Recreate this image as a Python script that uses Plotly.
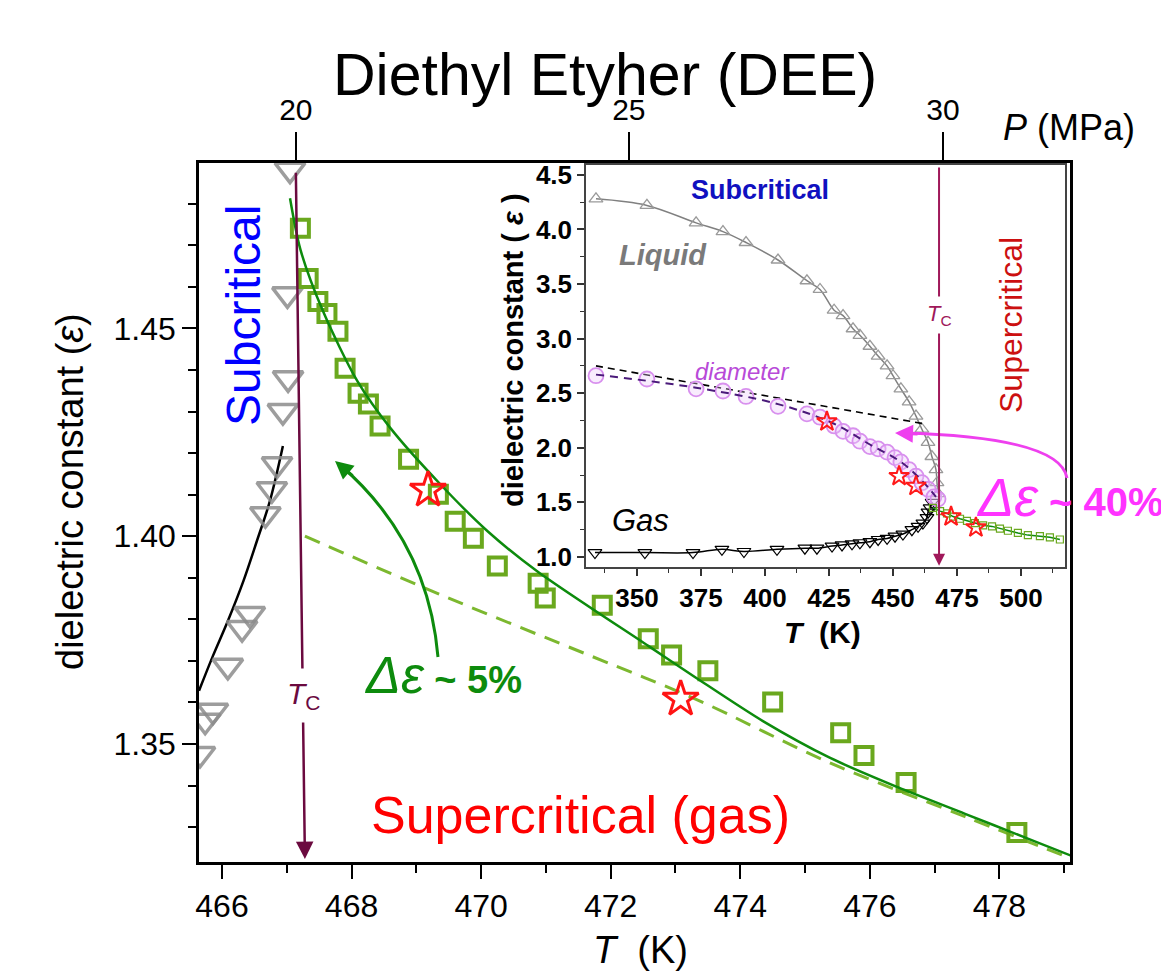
import plotly.graph_objects as go

# ---------------- main panel data (T in K, dielectric constant) ----------------
T_GRAY = [467.05, 467.01, 467.02, 466.94, 466.85, 466.77, 466.67, 466.43, 466.31, 466.09, 465.86, 465.74, 465.66]
E_GRAY = [1.4882, 1.4582, 1.4380, 1.4301, 1.4173, 1.4113, 1.4053, 1.3813, 1.3779, 1.3688, 1.3580, 1.3556, 1.3476]

T_GASFIT = [465.645, 465.86, 466.09, 466.33, 466.54, 466.74, 466.94]
E_GASFIT = [1.3628, 1.3712, 1.3796, 1.3892, 1.3989, 1.4085, 1.4217]

T_SQ = [467.21, 467.33, 467.48, 467.62, 467.79, 467.90, 468.10, 468.26, 468.44, 468.88, 469.34, 469.60,
        469.88, 470.25, 470.88, 470.99, 471.87, 472.58, 472.94, 473.50, 474.50, 475.55, 475.91, 476.56, 478.27]
E_SQ = [1.4741, 1.4620, 1.4565, 1.4536, 1.4493, 1.4404, 1.4344, 1.4318, 1.4265, 1.4185, 1.4101, 1.4036,
        1.3995, 1.3928, 1.3887, 1.3851, 1.3834, 1.3753, 1.3714, 1.3676, 1.3601, 1.3527, 1.3472, 1.3407, 1.3287]

T_STAR = [469.18, 473.08]
E_STAR = [1.4111, 1.3608]

T_FIT = [467.05, 467.21, 467.56, 468.09, 468.60, 469.37, 470.10, 470.87, 472.58, 473.31, 474.35,
         475.38, 476.43, 477.47, 478.41, 479.11]
E_FIT = [1.4813, 1.4690, 1.4541, 1.4373, 1.4260, 1.4125, 1.4012, 1.3915, 1.3736, 1.3660, 1.3555,
         1.3467, 1.3396, 1.3332, 1.3274, 1.3231]

T_DASH = [467.28, 469.50, 471.69, 473.31, 475.38, 477.47, 479.11]
E_DASH = [1.4000, 1.3851, 1.3712, 1.3608, 1.3455, 1.3325, 1.3224]

# top pressure axis: tick positions (on the T scale) and labels
P_TICK_T = [467.14, 472.28, 477.13]
P_TICK_TEXT = ["20", "25", "30"]

# critical temperature markers
TC_MAIN_TOP = (467.14, 1.4878)
TC_MAIN_BOT = (467.28, 1.3223)
TC_INSET = 468.0

# ---------------- inset data ----------------
T_LIQ = [334.0, 353.9, 373.1, 383.6, 392.6, 405.1, 416.4, 421.5, 427.0, 430.5, 434.4, 437.1, 441.0,
         444.2, 447.7, 450.0, 453.1, 456.3, 459.0, 461.3, 463.7, 465.2, 466.8, 467.2, 467.6]
E_LIQ = [4.28, 4.22, 4.06, 3.98, 3.88, 3.72, 3.53, 3.45, 3.26, 3.21, 3.09, 3.03, 2.93,
         2.84, 2.75, 2.66, 2.54, 2.42, 2.29, 2.17, 2.05, 1.92, 1.80, 1.68, 1.58]

T_GAS = [333.6, 353.1, 371.9, 383.2, 391.8, 404.7, 415.6, 420.3, 426.2, 430.1, 434.0, 437.1, 441.0,
         444.2, 447.7, 450.8, 453.9, 457.4, 459.8, 461.7, 463.3, 463.7, 464.5, 465.3]
E_GAS = [1.04, 1.04, 1.04, 1.07, 1.05, 1.07, 1.08, 1.08, 1.10, 1.11, 1.12, 1.13, 1.14,
         1.16, 1.17, 1.19, 1.21, 1.25, 1.28, 1.31, 1.36, 1.41, 1.45, 1.50]

T_DIA = [334.0, 353.9, 373.1, 383.6, 392.6, 405.1, 416.4, 421.5, 427.0, 430.5, 434.4, 437.1, 441.0,
         444.2, 447.7, 450.8, 453.1, 456.3, 459.0, 461.3, 463.7, 466.0, 467.6]
E_DIA = [2.66, 2.63, 2.54, 2.52, 2.47, 2.38, 2.31, 2.28, 2.20, 2.15, 2.11, 2.06, 2.01,
         1.99, 1.96, 1.91, 1.87, 1.80, 1.74, 1.68, 1.62, 1.55, 1.53]

T_PDASH = [334.0, 373.1, 405.1, 427.0, 441.0, 453.1, 461.3, 466.8]
E_PDASH = [2.67, 2.55, 2.40, 2.22, 2.03, 1.87, 1.70, 1.55]

T_BDASH = [334.0, 462.1]
E_BDASH = [2.75, 2.22]

T_SC = [465.6, 468.4, 471.1, 473.5, 476.2, 478.9, 482.0, 485.2, 488.7, 491.8, 494.9, 498.8, 502.7, 507.4, 511.3, 515.2]
E_SC = [1.45, 1.42, 1.40, 1.37, 1.35, 1.33, 1.31, 1.29, 1.28, 1.26, 1.24, 1.22, 1.20, 1.19, 1.18, 1.16]

T_ISTAR = [424.2, 452.4, 459.0, 472.7, 482.4]
E_ISTAR = [2.24, 1.74, 1.65, 1.37, 1.27]

# ---------------- layout geometry (screen pixels) ----------------
PAGE_OFF = 8                      # default body margin of the html page
FW, FH = 1169 - PAGE_OFF, 971 - PAGE_OFF
L, R, TOP, BOT = 199, 1070, 163, 862
W, H = R - L, BOT - TOP


def fx(px):
    return (px - L) / W


def fy(py):
    return (BOT - py) / H


FONT = "Liberation Sans, Arial, Helvetica, sans-serif"
GREEN_SQ = "#6aa81e"
GREEN_FIT = "#0d8b0d"
GREEN_DASH = "#7cb82f"


def ann(text, x, y, **kw):
    d = dict(text=text, x=x, y=y, xref="paper", yref="paper", showarrow=False,
             xanchor="center", yanchor="middle")
    d.update(kw)
    return d


fig = go.Figure()

# ---- main panel traces ----
fig.add_trace(go.Scatter(x=T_GASFIT, y=E_GASFIT, mode="lines", line=dict(color="black", width=2.5, shape="spline"),
                         xaxis="x", yaxis="y"))
fig.add_trace(go.Scatter(x=T_GRAY, y=E_GRAY, mode="markers",
                         marker=dict(symbol="triangle-down-open", size=26, color="rgba(140,140,140,0.85)",
                                     line=dict(width=3.5, color="rgba(140,140,140,0.85)")),
                         xaxis="x", yaxis="y"))
fig.add_trace(go.Scatter(x=T_DASH, y=E_DASH, mode="lines",
                         line=dict(color=GREEN_DASH, width=3, dash="16px,10px", shape="spline"),
                         xaxis="x", yaxis="y"))
fig.add_trace(go.Scatter(x=T_SQ, y=E_SQ, mode="markers",
                         marker=dict(symbol="square-open", size=17, color=GREEN_SQ, line=dict(width=4, color=GREEN_SQ)),
                         xaxis="x", yaxis="y"))
fig.add_trace(go.Scatter(x=T_FIT, y=E_FIT, mode="lines",
                         line=dict(color=GREEN_FIT, width=2.5, shape="spline", smoothing=0.8),
                         xaxis="x", yaxis="y"))
fig.add_trace(go.Scatter(x=T_STAR, y=E_STAR, mode="markers",
                         marker=dict(symbol="star-open", size=27, color="#ff1414", line=dict(width=3, color="#ff1414")),
                         xaxis="x", yaxis="y"))
# dummy trace for top pressure axis
fig.add_trace(go.Scatter(x=P_TICK_T, y=[None] * len(P_TICK_T), mode="markers", xaxis="x2", yaxis="y",
                         hoverinfo="skip"))

# ---- inset traces ----
fig.add_trace(go.Scatter(x=T_LIQ, y=E_LIQ, mode="lines+markers", line=dict(color="#808080", width=1.5, shape="spline"),
                         marker=dict(symbol="triangle-up-open", size=12, color="#9a9a9a", line=dict(width=1.3)),
                         xaxis="x3", yaxis="y3"))
fig.add_trace(go.Scatter(x=T_GAS, y=E_GAS, mode="lines+markers", line=dict(color="black", width=1.5, shape="spline"),
                         marker=dict(symbol="triangle-down-open", size=12, color="black", line=dict(width=1.2)),
                         xaxis="x3", yaxis="y3"))
fig.add_trace(go.Scatter(x=T_BDASH, y=E_BDASH, mode="lines", line=dict(color="black", width=1.6, dash="7px,5px"),
                         xaxis="x3", yaxis="y3"))
fig.add_trace(go.Scatter(x=T_DIA, y=E_DIA, mode="markers",
                         marker=dict(symbol="circle", size=15, color="rgba(235,200,248,0.35)",
                                     line=dict(width=1.8, color="#d890ee")),
                         xaxis="x3", yaxis="y3"))
fig.add_trace(go.Scatter(x=T_PDASH, y=E_PDASH, mode="lines", line=dict(color="#4a1a7a", width=2, dash="8px,6px", shape="spline"),
                         xaxis="x3", yaxis="y3"))
fig.add_trace(go.Scatter(x=T_SC, y=E_SC, mode="lines+markers", line=dict(color=GREEN_FIT, width=1.5),
                         marker=dict(symbol="square-open", size=7, color=GREEN_SQ, line=dict(width=1.2)),
                         xaxis="x3", yaxis="y3"))
fig.add_trace(go.Scatter(x=T_ISTAR, y=E_ISTAR, mode="markers",
                         marker=dict(symbol="star-open", size=15, color="#ff1a1a", line=dict(width=2)),
                         xaxis="x3", yaxis="y3"))

# ---- shapes: curved arrows ----
shapes = [
    dict(type="path", xref="paper", yref="paper",
         path=f"M {fx(438)},{fy(657)} Q {fx(428)},{fy(540)} {fx(339)},{fy(464)}",
         line=dict(color=GREEN_FIT, width=3)),
    dict(type="path", xref="paper", yref="paper",
         path=f"M {fx(1067)},{fy(478)} Q {fx(1060)},{fy(437)} {fx(902)},{fy(433)}",
         line=dict(color="#ee40ee", width=3)),
]

annotations = [
    # titles
    ann("Diethyl Etyher (DEE)", fx(605), fy(75), font=dict(size=59, color="black")),
    ann("<i>P</i> (MPa)", fx(1069), fy(127), font=dict(size=36, color="black")),
    ann("dielectric constant (<i>ε</i>)", fx(70), fy(492), textangle=-90, font=dict(size=38, color="black")),
    ann("<i>T</i>  (K)", fx(640), fy(950), font=dict(size=38, color="black")),
    # main panel labels
    ann("Subcritical", fx(243), fy(316), textangle=-90, font=dict(size=48, color="#0000ff")),
    ann("Supercritical (gas)", fx(580), fy(815), font=dict(size=52, color="#ff0000")),
    ann("<i><span style='font-size:52px'>Δε</span></i><b> ~ 5%</b>", fx(443), fy(675),
        font=dict(size=38, color=GREEN_FIT)),
    # main Tc arrow + label
    dict(text="", x=TC_MAIN_BOT[0], y=TC_MAIN_BOT[1], ax=TC_MAIN_TOP[0], ay=TC_MAIN_TOP[1],
         xref="x", yref="y", axref="x", ayref="y", showarrow=True, arrowhead=2, arrowsize=1.4,
         arrowwidth=2.5, arrowcolor="#6b0a3f"),
    dict(text="<i>T</i><sub>C</sub>", x=467.27, y=1.3616, xref="x", yref="y", showarrow=False,
         xanchor="center", yanchor="middle",
         bgcolor="white", borderpad=8, font=dict(size=30, color="#6b0a3f")),
    # green arrowhead
    dict(text="", x=fx(335), y=fy(461), xref="paper", yref="paper", ax=19, ay=16, showarrow=True,
         arrowhead=2, arrowsize=1.2, arrowwidth=3, arrowcolor=GREEN_FIT),
    # inset labels
    ann("<b>Subcritical</b>", fx(760), fy(190), font=dict(size=27, color="#1010c0")),
    ann("<b><i>Liquid</i></b>", fx(663), fy(255), font=dict(size=29, color="#7a7a7a")),
    ann("<i>diameter</i>", fx(742), fy(371), font=dict(size=24, color="#b84ad8")),
    ann("<i>Gas</i>", fx(640), fy(520), font=dict(size=31, color="black")),
    ann("Supercritical", fx(1011), fy(325), textangle=-90, font=dict(size=32, color="#cc1010")),
    dict(text="", x=TC_INSET, y=0.92, ax=TC_INSET, ay=4.58, xref="x3", yref="y3", axref="x3", ayref="y3",
         showarrow=True, arrowhead=2, arrowsize=1.2, arrowwidth=2, arrowcolor="#a0185a"),
    dict(text="<i>T</i><sub>C</sub>", x=TC_INSET, y=3.22, xref="x3", yref="y3", showarrow=False,
         xanchor="center", yanchor="middle",
         bgcolor="white", borderpad=4, font=dict(size=22, color="#a0185a")),
    ann("<b><i>T</i>  (K)</b>", fx(822), fy(632), font=dict(size=30, color="black")),
    ann("<b>dielectric constant ( <i>ε</i> )</b>", fx(513), fy(350), textangle=-90,
        font=dict(size=29, color="black")),
    # magenta arrowhead + label
    dict(text="", x=fx(895), y=fy(433), xref="paper", yref="paper", ax=24, ay=1, showarrow=True,
         arrowhead=2, arrowsize=1.2, arrowwidth=3, arrowcolor="#ee40ee"),
    ann("<i><span style='font-size:54px'>Δε</span></i><b> ~ 40%</b>", fx(974), fy(497), xanchor="left",
        font=dict(size=40, color="#ff33ff")),
]

main_tick = dict(ticks="outside", ticklen=14, tickwidth=2, tickcolor="black",
                 showline=True, linewidth=2.5, linecolor="black", mirror=True,
                 showgrid=False, zeroline=False, tickfont=dict(size=32, color="black"))
inset_tick = dict(ticks="outside", ticklen=7, tickwidth=1.5, tickcolor="#333",
                  showline=True, linewidth=1.5, linecolor="#444", mirror=True,
                  showgrid=False, zeroline=False,
                  tickfont=dict(size=26, color="black", weight="bold"))

fig.update_layout(
    template="none",
    width=FW, height=FH,
    margin=dict(l=L - PAGE_OFF, r=FW - (R - PAGE_OFF), t=TOP - PAGE_OFF, b=FH - (BOT - PAGE_OFF), autoexpand=False),
    paper_bgcolor="white", plot_bgcolor="white",
    font=dict(family=FONT, color="black"),
    showlegend=False,
    xaxis=dict(domain=[0, 1], anchor="y", range=[465.645, 479.09], tickmode="array",
               tickvals=[466, 468, 470, 472, 474, 476, 478],
               minor=dict(dtick=1, tick0=466, ticks="outside", ticklen=8, tickwidth=2, tickcolor="black"),
               automargin=False, **main_tick),
    yaxis=dict(domain=[0, 1], anchor="x", range=[1.3216, 1.4898], dtick=0.05, tick0=1.35, tickformat=".2f",
               minor=dict(dtick=0.01, tick0=1.35, ticks="outside", ticklen=8, tickwidth=2, tickcolor="black"),
               automargin=False, **main_tick),
    xaxis2=dict(overlaying="x", side="top", anchor="y", range=[465.645, 479.09], tickmode="array",
                tickvals=P_TICK_T, ticktext=P_TICK_TEXT, ticks="outside", ticklen=30, tickwidth=1.5,
                tickcolor="black", showline=False, showgrid=False, zeroline=False, automargin=False,
                tickfont=dict(size=30, color="black")),
    xaxis3=dict(domain=[fx(586), fx(1065)], anchor="y3", range=[330.1, 517.2], tickmode="array",
                tickvals=[350, 375, 400, 425, 450, 475, 500],
                minor=dict(dtick=12.5, tick0=337.5, ticks="outside", ticklen=4, tickwidth=1.2, tickcolor="#333"),
                automargin=False, **inset_tick),
    yaxis3=dict(domain=[fy(567), fy(165)], anchor="x3", range=[0.908, 4.59], dtick=0.5, tick0=1.0, tickformat=".1f",
                minor=dict(dtick=0.25, tick0=1.0, ticks="outside", ticklen=4, tickwidth=1.2, tickcolor="#333"),
                automargin=False, **inset_tick),
    shapes=shapes,
    annotations=annotations,
)

fig.write_html("out.html")
